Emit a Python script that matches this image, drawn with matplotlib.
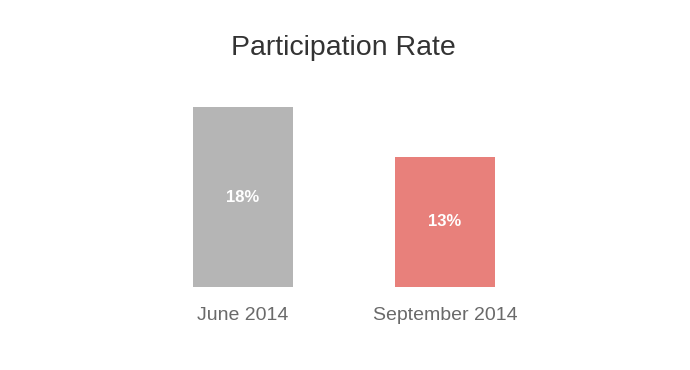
import matplotlib.pyplot as plt

# Participation rate by survey period
categories = ["June 2014", "September 2014"]
values = [18, 13]
colors = ["#b5b5b5", "#e8807b"]

plt.rcParams['font.family'] = ['Liberation Sans', 'DejaVu Sans']

fig = plt.figure(figsize=(6.9, 3.7), dpi=100)
ax = fig.add_axes([0, 0, 1, 1])

x = range(len(categories))
bars = ax.bar(x, values, width=100 / 202, color=colors)

# value labels in the middle of each bar
for b, v in zip(bars, values):
    ax.text(b.get_x() + b.get_width() / 2, v / 2, f"{v}%",
            ha="center", va="center", color="white",
            fontsize=12, fontweight="bold")

# category labels under the bars
for i, c in zip(x, categories):
    ax.text(i, -2.9, c, ha="center", va="center", color="#6a6a6a", fontsize=14)

ax.set_xlim(-243 / 202, 447 / 202)
ax.set_ylim(-8.3, 28.7)
ax.axis("off")

fig.text(0.4975, 1 - 48 / 370, "Participation Rate", ha="center", va="center",
         fontsize=20.5, color="#333333")

fig.savefig("out.png", dpi=100)
